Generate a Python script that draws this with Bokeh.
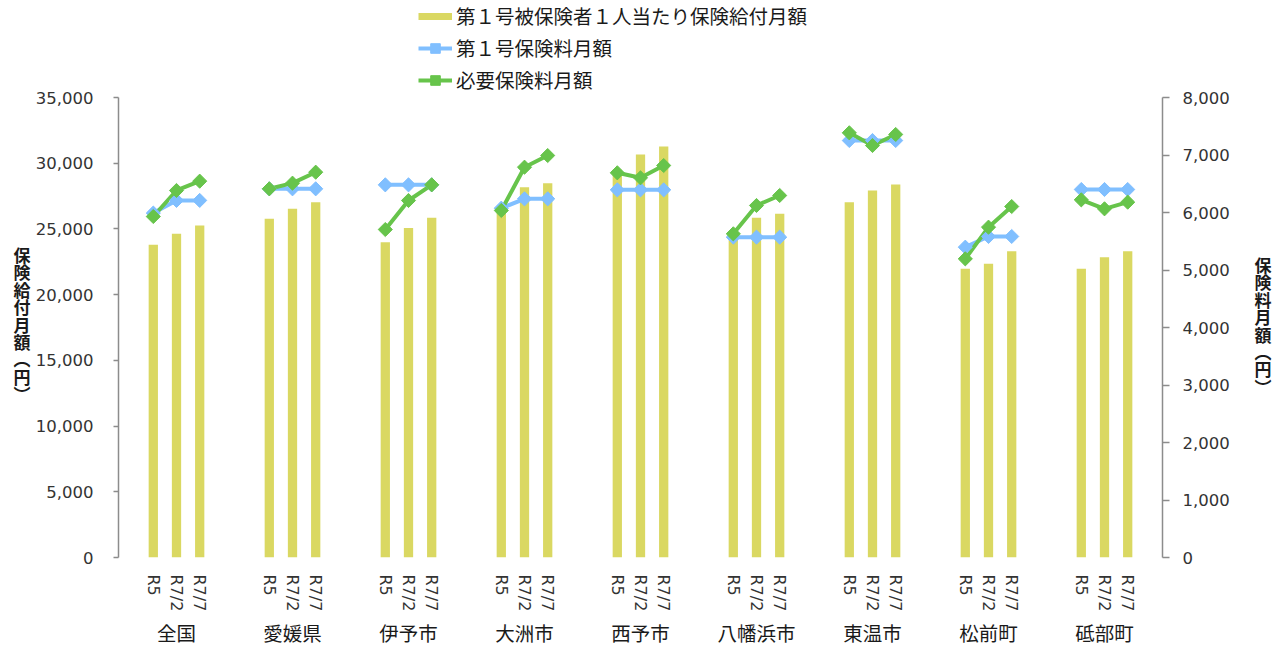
import math
from bokeh.plotting import figure
from bokeh.layouts import column
from bokeh.models import (FactorRange, Range1d, LinearAxis, CategoricalAxis, FixedTicker,
                          NumeralTickFormatter, Legend, LegendItem, ColumnDataSource)
from bokeh.embed import file_html
from bokeh.resources import INLINE

groups = ["全国", "愛媛県", "伊予市", "大洲市", "西予市", "八幡浜市", "東温市", "松前町", "砥部町"]
periods = ["R5", "R7/2", "R7/7"]

benefit = [23800, 24630, 25260, 25770, 26530, 27030, 23990, 25080, 25850,
           26500, 28170, 28480, 29500, 30660, 31270, 24800, 25850, 26150,
           27030, 27920, 28380, 21970, 22350, 23310, 21970, 22850, 23310]
premium = [5990, 6210, 6210, 6412, 6412, 6412, 6481, 6481, 6481,
           6075, 6238, 6238, 6394, 6394, 6394, 5571, 5571, 5571,
           7252, 7252, 7252, 5397, 5583, 5583, 6400, 6400, 6400]
required = [5930, 6383, 6545, 6412, 6510, 6701, 5704, 6209, 6481,
            6035, 6788, 6991, 6690, 6603, 6817, 5629, 6122, 6296,
            7386, 7165, 7357, 5194, 5745, 6104, 6220, 6064, 6180]

left_ticks = [0, 5000, 10000, 15000, 20000, 25000, 30000, 35000]
right_ticks = [0, 1000, 2000, 3000, 4000, 5000, 6000, 7000, 8000]

legend_labels = ["第１号被保険者１人当たり保険給付月額", "第１号保険料月額", "必要保険料月額"]
left_title = "保険給付月額(円)"
right_title = "保険料月額(円)"

BAR = "#DAD862"
BLUE = "#80BFFF"
GREEN = "#67C44B"
JP = "Noto Sans CJK JP"
NUM = "DejaVu Sans"

factors = [(g, s) for g in groups for s in periods]

W, H = 1274, 650
LEG_H = 91                            # height of the legend strip on top
FL, FR, FT, FB = 118, 1165, 97, 557   # frame edges in page pixels
MAIN_H = H - LEG_H

# ---------------- legend strip ----------------
lf = figure(width=W, height=LEG_H, x_range=Range1d(0, 1), y_range=Range1d(0, 1),
            output_backend="svg", toolbar_location=None, min_border=0,
            x_axis_type=None, y_axis_type=None)
lf.outline_line_color = None
lf.xgrid.visible = False
lf.ygrid.visible = False
# legend-only renderers: their points lie outside the visible range
off_x = [5, 6]
off_y = [5, 5]
sw_bar = lf.line(off_x, off_y, line_color=BAR, line_width=7)
sw_bl = lf.line(off_x, off_y, line_color=BLUE, line_width=4)
sw_bm = lf.scatter(off_x, off_y, marker="square", angle=math.pi / 4, size=8,
                   fill_color=BLUE, line_color=BLUE)
sw_gl = lf.line(off_x, off_y, line_color=GREEN, line_width=4)
sw_gm = lf.scatter(off_x, off_y, marker="square", angle=math.pi / 4, size=8,
                   fill_color=GREEN, line_color=GREEN)
legend = Legend(items=[
    LegendItem(label=legend_labels[0], renderers=[sw_bar]),
    LegendItem(label=legend_labels[1], renderers=[sw_bl, sw_bm]),
    LegendItem(label=legend_labels[2], renderers=[sw_gl, sw_gm]),
], orientation="vertical", location=(300, -3))
legend.padding = 0
legend.margin = 0
legend.spacing = 3
legend.label_height = 24
legend.glyph_height = 24
legend.glyph_width = 34
legend.label_standoff = 4
legend.border_line_color = None
legend.background_fill_alpha = 0
legend.label_text_font = JP
legend.label_text_font_size = "19.5px"
legend.label_text_color = "#1a1a1a"
lf.add_layout(legend)

# ---------------- main chart ----------------
p = figure(x_range=FactorRange(*factors, group_padding=2.0, range_padding=1.0,
                               range_padding_units="absolute"),
           y_range=Range1d(0, 35000),
           width=W, height=MAIN_H, output_backend="svg", toolbar_location=None,
           min_border_left=FL, min_border_right=W - FR, min_border_top=FT - LEG_H,
           min_border_bottom=H - FB)
# helper ranges used only to place the stacked axis-title characters and group names
p.extra_y_ranges = {"r": Range1d(0, 8000), "pix": Range1d(FB * 10, FT * 10)}
p.extra_x_ranges = {"grp": FactorRange(factors=groups)}
p.outline_line_color = None
p.xgrid.visible = False
p.ygrid.visible = False

src = ColumnDataSource(dict(x=factors, benefit=benefit, premium=premium, required=required))

p.vbar(x="x", top="benefit", width=0.4, source=src, fill_color=BAR, line_color=None)

for i, g in enumerate(groups):
    xs = factors[3 * i:3 * i + 3]
    p.line(xs, premium[3 * i:3 * i + 3], y_range_name="r", line_color=BLUE, line_width=4)
for i, g in enumerate(groups):
    xs = factors[3 * i:3 * i + 3]
    p.line(xs, required[3 * i:3 * i + 3], y_range_name="r", line_color=GREEN, line_width=4)

p.scatter(x="x", y="premium", source=src, y_range_name="r", marker="square",
          angle=math.pi / 4, size=10, fill_color=BLUE, line_color=BLUE)
p.scatter(x="x", y="required", source=src, y_range_name="r", marker="square",
          angle=math.pi / 4, size=10, fill_color=GREEN, line_color=GREEN)


def style_value_axis(ax, tick_out, standoff):
    ax.formatter = NumeralTickFormatter(format="0,0")
    ax.major_label_text_font = NUM
    ax.major_label_text_font_size = "16.5px"
    ax.major_label_text_color = "#333333"
    ax.axis_line_color = "#8c8c8c"
    ax.axis_line_width = 1.5
    ax.major_tick_line_color = "#8c8c8c"
    ax.major_tick_line_width = 1.5
    ax.major_tick_out = tick_out
    ax.major_tick_in = 0
    ax.minor_tick_line_color = None
    ax.major_label_standoff = standoff


ya = p.yaxis[0]
ya.ticker = FixedTicker(ticks=left_ticks)
style_value_axis(ya, 5, 20)

ra = LinearAxis(y_range_name="r", ticker=FixedTicker(ticks=right_ticks))
style_value_axis(ra, 7, 13)
p.add_layout(ra, "right")


def title_axis(text, cy0, pitch, standoff, side):
    chars = list(text.replace("(", "︵").replace(")", "︶"))
    ticks = [int(round((cy0 + k * pitch) * 10)) for k in range(len(chars))]
    ax = LinearAxis(y_range_name="pix", ticker=FixedTicker(ticks=ticks),
                    major_label_overrides={t: c for t, c in zip(ticks, chars)})
    ax.axis_line_color = None
    ax.major_tick_line_color = None
    ax.minor_tick_line_color = None
    ax.major_tick_out = 0
    ax.major_tick_in = 0
    ax.major_label_standoff = standoff
    ax.major_label_text_font = JP
    ax.major_label_text_font_size = "17px"
    ax.major_label_text_font_style = "bold"
    ax.major_label_text_color = "#1a1a1a"
    p.add_layout(ax, side)


title_axis(left_title, 254, 17.4, 2, "left")
title_axis(right_title, 264, 17.4, 22, "right")

# x axis: sub labels from the factor axis
xa = p.xaxis[0]
xa.axis_line_color = None
xa.major_tick_line_color = None
xa.minor_tick_line_color = None
xa.separator_line_color = None
xa.major_label_orientation = -math.pi / 2
xa.major_label_standoff = 11
xa.major_label_text_font = NUM
xa.major_label_text_font_size = "16px"
xa.major_label_text_color = "#333333"
xa.group_text_font_size = "1px"
xa.group_text_color = None

# group names on a second bottom axis
ga = CategoricalAxis(x_range_name="grp")
ga.axis_line_color = None
ga.major_tick_line_color = None
ga.minor_tick_line_color = None
ga.separator_line_color = None
ga.major_tick_out = 0
ga.major_tick_in = 0
ga.major_label_standoff = 3
ga.major_label_text_font = JP
ga.major_label_text_font_size = "19.5px"
ga.major_label_text_color = "#1a1a1a"
p.add_layout(ga, "below")

layout = column(lf, p, spacing=0)
open("out.html", "w").write(file_html(layout, INLINE))
